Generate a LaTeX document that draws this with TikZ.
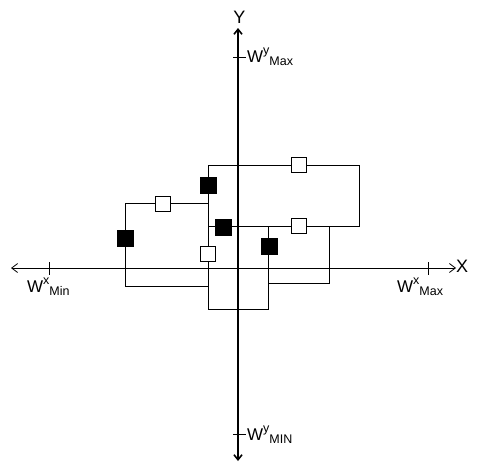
\documentclass[tikz,border=0pt]{standalone}
\usepackage{fontspec}
\setmainfont{Liberation Sans}
\usetikzlibrary{arrows.meta}
\newcommand\wlbl[2]{W\raisebox{8pt}{\fontsize{12.5}{12}\selectfont #1}\raisebox{-3.5pt}{\fontsize{12.5}{12}\selectfont #2}}
\begin{document}
\begin{tikzpicture}[x=1pt,y=-1pt,
  wire/.style={line width=0.8pt},
  axis/.style={line width=0.8pt,-{Straight Barb[length=6pt,width=9pt]}},
  wbox/.style={draw,line width=0.8pt,fill=white,minimum size=15pt,inner sep=0pt},
  bbox/.style={draw,line width=0.8pt,fill=black,minimum size=16pt,inner sep=0pt},
  lbl/.style={inner sep=0pt,anchor=base west,font=\fontsize{17}{17}\selectfont},
  axlbl/.style={inner sep=0pt,font=\fontsize{18}{18}\selectfont}]
\useasboundingbox (0,0) rectangle (477,463);
% axes
\coordinate (xl) at (11,268);
\coordinate (xr) at (456,268);
\coordinate (yt) at (238,28);
\coordinate (yb) at (238,461);
\draw[axis,{Straight Barb[length=6pt,width=9pt]}-{Straight Barb[length=6pt,width=9pt]}] (xl) -- (xr);
\draw[axis,line width=1.6pt,{Straight Barb[length=5pt,width=8pt]}-{Straight Barb[length=5pt,width=8pt]}] (yb) -- (yt);
% ticks
\draw[wire] (49,262) -- (49,275);
\draw[wire] (428,262) -- (428,275);
\draw[wire] (233,57) -- (246,57);
\draw[wire] (233,434) -- (246,434);
% labels
\node[axlbl] (X) at (462,266.5) {X};
\node[axlbl] (Y) at (239.5,17.5) {Y};
\node[lbl] (wxmin) at (27,292) {\wlbl{x}{Min}};
\node[lbl] (wxmax) at (397,292) {\wlbl{x}{Max}};
\node[lbl] (wymax) at (247,62) {\wlbl{y}{Max}};
\node[lbl] (wymin) at (247,440) {\wlbl{y}{MIN}};
% corner coordinates
\coordinate (a1) at (208,165);
\coordinate (a2) at (359,165);
\coordinate (a3) at (359,226);
\coordinate (a4) at (208,226);
\coordinate (a5) at (208,309);
\coordinate (a6) at (268,309);
\coordinate (a7) at (268,226);
\coordinate (b1) at (125,203);
\coordinate (b2) at (208,203);
\coordinate (b3) at (125,286);
\coordinate (b4) at (208,286);
\coordinate (c1) at (268,283);
\coordinate (c2) at (329,283);
\coordinate (c3) at (329,226);
% wires
\draw[wire] (a5) -- (a1) -- (a2) -- (a3) -- (a4);
\draw[wire] (a5) -- (a6) -- (a7);
\draw[wire] (b4) -- (b3) -- (b1) -- (b2);
\draw[wire] (c1) -- (c2) -- (c3);
% squares
\node[wbox] (w1) at (299,165) {};
\node[wbox] (w2) at (299,225.5) {};
\node[wbox] (w3) at (163,203.5) {};
\node[wbox] (w4) at (208,253.5) {};
\node[bbox] (k1) at (208,185) {};
\node[bbox] (k2) at (223,227) {};
\node[bbox] (k3) at (125,238) {};
\node[bbox] (k4) at (269,246) {};
\end{tikzpicture}
\end{document}
